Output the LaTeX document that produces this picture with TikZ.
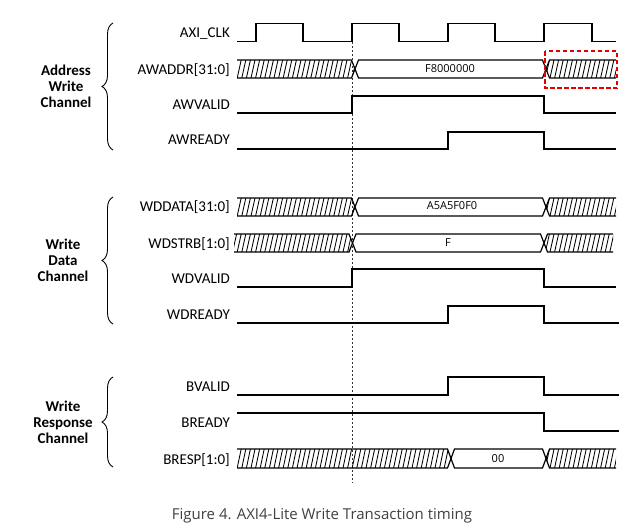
\documentclass[tikz,border=0pt]{standalone}
\usepackage{fontspec}
\setmainfont{Carlito}
\newfontfamily\uifont{Open Sans}
\usetikzlibrary{decorations.pathreplacing}
\definecolor{capgrey}{HTML}{404040}
\tikzset{
  sig/.style={line width=1.2pt, line join=miter},
  hatchline/.style={line width=0.85pt},
  lbl/.style={anchor=base east, inner sep=0pt, font=\fontsize{15}{17}\selectfont},
  grp/.style={align=center, inner sep=0pt, font=\fontsize{15}{16}\selectfont\bfseries},
  val/.style={inner sep=0pt, font=\uifont\fontsize{11}{13}\selectfont},
  brc/.style={line width=0.9pt, decorate, decoration={brace, amplitude=11pt}},
}
\newcommand\hatchreg[3]{%
  \begin{scope}
    \clip #1;
    \foreach \i in {228,232.6,...,626} \draw[hatchline] (\i,#3) -- ++(4,#2-#3);
  \end{scope}}
\newcommand\busthree[6]{% top bot start t1 t2 end
  \pgfmathsetmacro\bmid{(#1+#2)/2}
  \hatchreg{(#3,#1) -- ({#4-3.5},#1) -- (#4,\bmid) -- ({#4-3.5},#2) -- (#3,#2) -- cycle}{#1}{#2}
  \hatchreg{(#5,\bmid) -- ({#5+3.5},#1) -- (#6,#1) -- (#6,#2) -- ({#5+3.5},#2) -- cycle}{#1}{#2}
  \draw[sig] (#3,#1) -- ({#4-3.5},#1) -- ({#4+3.5},#2) -- ({#5-3.5},#2) -- ({#5+3.5},#1) -- (#6,#1);
  \draw[sig] (#3,#2) -- ({#4-3.5},#2) -- ({#4+3.5},#1) -- ({#5-3.5},#1) -- ({#5+3.5},#2) -- (#6,#2);
}
\begin{document}
\begin{tikzpicture}[x=1pt,y=-1pt]
\useasboundingbox (0,0) rectangle (620,531);

% reference dashed line
\draw[line width=0.6pt, dash pattern=on 2pt off 2pt, black!80] (352,42) -- (352,483);

% ---------- Address write channel
\node[lbl] (lclk) at (230,37) {AXI\_CLK};
\node[lbl] (lawaddr) at (230,74) {AWADDR[31:0]};
\node[lbl] (lawvalid) at (230,109) {AWVALID};
\node[lbl] (lawready) at (230,144) {AWREADY};

\draw[sig] (237,41.5) -- (256,41.5) -- (256,23.5) -- (303,23.5) -- (303,41.5)
  -- (352,41.5) -- (352,23.5) -- (399,23.5) -- (399,41.5)
  -- (448,41.5) -- (448,23.5) -- (495,23.5) -- (495,41.5)
  -- (544,41.5) -- (544,23.5) -- (592,23.5) -- (592,41.5) -- (616,41.5);

\busthree{60}{78}{237}{355}{546}{616}
\node[val] (vaddr) at (450,69) {F8000000};
\draw[red!90!black, line width=2.2pt, dash pattern=on 4.5pt off 2.5pt] (545,51) rectangle (617,88);

\draw[sig] (237,113) -- (352,113) -- (352,96) -- (544,96) -- (544,113) -- (616,113);
\draw[sig] (237,149) -- (448,149) -- (448,132) -- (544,132) -- (544,149) -- (616,149);

\draw[brc] (113,150) -- (113,23);
\node[grp] (gaw) at (66,86.5) {Address\\Write\\Channel};

% ---------- Write data channel
\node[lbl] (lwdata) at (230,211) {WDDATA[31:0]};
\node[lbl] (lwstrb) at (230,248) {WDSTRB[1:0]};
\node[lbl] (lwvalid) at (230,283) {WDVALID};
\node[lbl] (lwready) at (230,319) {WDREADY};

\busthree{198}{216}{237}{355}{546}{616}
\node[val] (vdata) at (452,206) {A5A5F0F0};
\busthree{234}{252}{234}{352.5}{544}{613}
\node[val] (vstrb) at (448,243) {F};

\draw[sig] (237,287) -- (352,287) -- (352,269) -- (544,269) -- (544,287) -- (616,287);
\draw[sig] (237,323) -- (448,323) -- (448,306) -- (544,306) -- (544,323) -- (619,323);

\draw[brc] (113,324) -- (113,197);
\node[grp] (gwd) at (63,260) {Write\\Data\\Channel};

% ---------- Write response channel
\node[lbl] (lbvalid) at (230,391) {BVALID};
\node[lbl] (lbready) at (230,427) {BREADY};
\node[lbl] (lbresp) at (230,464) {BRESP[1:0]};

\draw[sig] (237,395) -- (448,395) -- (448,377) -- (544,377) -- (544,395) -- (619,395);
\draw[sig] (237,413) -- (544,413) -- (544,431) -- (619,431);

\busthree{449}{468}{237}{451}{546}{616}
\node[val] (vresp) at (498,458.5) {00};

\draw[brc] (113,467) -- (113,377);
\node[grp] (gwr) at (63,422) {Write\\Response\\Channel};

% ---------- caption
\node[inner sep=0pt, text=capgrey, font=\uifont\fontsize{15}{17}\selectfont] (cap) at (322,516) {Figure 4. AXI4-Lite Write Transaction timing};
\end{tikzpicture}
\end{document}
